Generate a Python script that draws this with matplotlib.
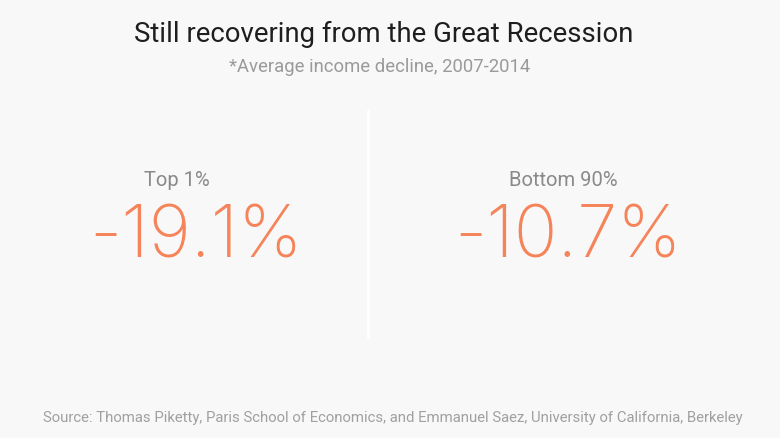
import matplotlib
matplotlib.use("Agg")
import matplotlib.pyplot as plt
from matplotlib.lines import Line2D

title = "Still recovering from the Great Recession"
subtitle = "*Average income decline, 2007-2014"
groups = ["Top 1%", "Bottom 90%"]
values = [-19.1, -10.7]
source = ("Source: Thomas Piketty, Paris School of Economics, and Emmanuel Saez, "
          "University of California, Berkeley")

W, H = 780, 439
fig = plt.figure(figsize=(W / 100, H / 100), dpi=100)
fig.patch.set_facecolor("#f8f8f8")

def fx(x):
    return x / W

def fy(y):
    return 1 - y / H

fig.text(fx(384), fy(34), title, ha="center", va="center",
         fontsize=19.8, color="#1e1e1e", family="Roboto")
fig.text(fx(380), fy(67), subtitle, ha="center", va="center",
         fontsize=13.3, color="#9a9a9a", family="Roboto")

label_x = [177, 563]
value_x = [196, 568]
for g, v, lx, vx in zip(groups, values, label_x, value_x):
    fig.text(fx(lx), fy(181), g, ha="center", va="center",
             fontsize=14.5, color="#8a8a8a", family="Roboto")
    fig.text(fx(vx), fy(239), f"{v:.1f}%", ha="center", va="center",
             fontsize=52, color="#f5845a", family="Inter", fontweight=200)

fig.add_artist(Line2D([fx(368), fx(368)], [fy(112), fy(338)],
                      color="white", lw=2))

fig.text(fx(393), fy(418), source, ha="center", va="center",
         fontsize=10.75, color="#a0a0a0", family="Roboto")

fig.savefig("out.png", dpi=100, facecolor=fig.get_facecolor())
